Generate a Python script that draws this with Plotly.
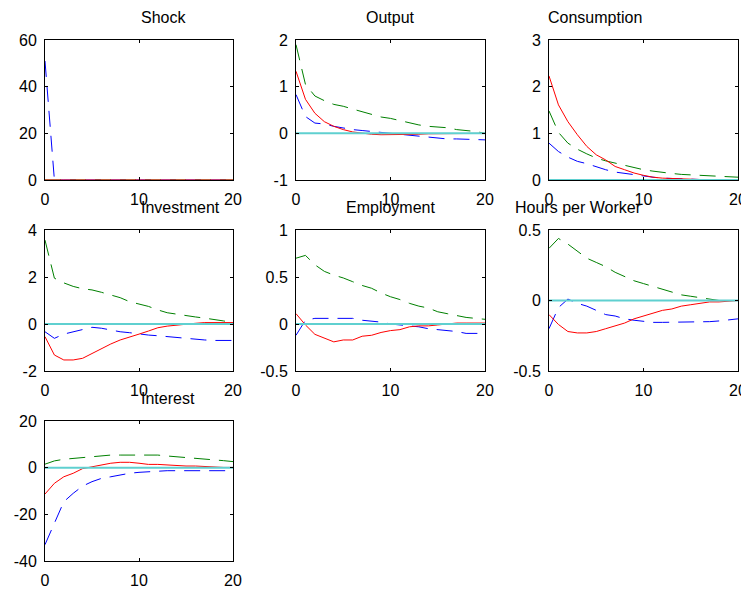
import plotly.graph_objects as go

t = list(range(21))

titles = ['Shock', 'Output', 'Consumption', 'Investment', 'Employment',
          'Hours per Worker', 'Interest']

# blue dashed, green dashed, red solid
shock_blue = [51] + [0] * 20
shock_green = [0] * 21
shock_red = [0] * 21

output_blue = [0.83, 0.36, 0.22, 0.2, 0.15, 0.11, 0.08, 0.06, 0.04, 0.02, 0.0,
               -0.02, -0.05, -0.07, -0.08, -0.1, -0.12, -0.12, -0.13, -0.13, -0.14]
output_green = [1.9, 1.05, 0.8, 0.7, 0.62, 0.58, 0.52, 0.46, 0.4, 0.35, 0.32,
                0.27, 0.22, 0.18, 0.15, 0.13, 0.12, 0.08, 0.06, 0.04, 0.0]
output_red = [1.33, 0.73, 0.43, 0.25, 0.15, 0.08, 0.03, 0.0, -0.02, -0.03, -0.03,
              -0.03, -0.03, -0.02, -0.01, -0.01, 0.0, 0.0, 0.0, 0.0, 0.0]

cons_blue = [0.79, 0.61, 0.49, 0.4, 0.35, 0.28, 0.22, 0.17, 0.14, 0.11, 0.08,
             0.06, 0.04, 0.03, 0.02, 0.01, 0.01, 0.01, 0.01, 0.01, 0.01]
cons_green = [1.48, 1.02, 0.79, 0.66, 0.56, 0.47, 0.41, 0.36, 0.31, 0.26, 0.22,
              0.19, 0.16, 0.14, 0.12, 0.11, 0.09, 0.09, 0.07, 0.06, 0.06]
cons_red = [2.23, 1.61, 1.25, 0.97, 0.72, 0.54, 0.43, 0.29, 0.22, 0.15, 0.1,
            0.06, 0.04, 0.03, 0.02, 0.01, 0.01, 0.01, 0.01, 0.01, 0.01]

inv_blue = [-0.33, -0.61, -0.43, -0.33, -0.23, -0.14, -0.18, -0.26, -0.33, -0.37, -0.43,
            -0.47, -0.5, -0.54, -0.58, -0.61, -0.65, -0.68, -0.7, -0.7, -0.7]
inv_green = [3.57, 1.95, 1.75, 1.6, 1.5, 1.45, 1.35, 1.25, 1.12, 0.95, 0.85,
             0.75, 0.6, 0.48, 0.42, 0.35, 0.3, 0.25, 0.2, 0.13, 0.06]
inv_red = [-0.54, -1.32, -1.53, -1.53, -1.46, -1.25, -1.04, -0.85, -0.68, -0.54, -0.43,
           -0.3, -0.16, -0.09, -0.04, 0.0, 0.03, 0.06, 0.06, 0.06, 0.06]

emp_blue = [-0.12, 0.04, 0.06, 0.06, 0.06, 0.06, 0.06, 0.04, 0.03, 0.02, 0.0,
            -0.01, -0.02, -0.03, -0.05, -0.06, -0.07, -0.08, -0.1, -0.1, -0.1]
emp_green = [0.7, 0.73, 0.63, 0.56, 0.52, 0.49, 0.45, 0.41, 0.38, 0.33, 0.29,
             0.26, 0.22, 0.19, 0.17, 0.13, 0.11, 0.09, 0.07, 0.06, 0.05]
emp_red = [0.11, -0.01, -0.11, -0.15, -0.19, -0.17, -0.17, -0.13, -0.12, -0.09, -0.07,
           -0.06, -0.03, -0.02, -0.02, -0.01, 0.0, 0.01, 0.01, 0.01, 0.01]

hrs_blue = [-0.2, -0.05, 0.01, -0.02, -0.04, -0.07, -0.1, -0.11, -0.13, -0.14, -0.15,
            -0.155, -0.155, -0.155, -0.155, -0.155, -0.155, -0.15, -0.145, -0.14, -0.13]
hrs_green = [0.37, 0.44, 0.4, 0.35, 0.3, 0.27, 0.24, 0.2, 0.17, 0.14, 0.12,
             0.1, 0.08, 0.06, 0.04, 0.03, 0.02, 0.01, 0.0, 0.0, 0.0]
hrs_red = [-0.1, -0.17, -0.22, -0.23, -0.23, -0.22, -0.2, -0.18, -0.16, -0.13, -0.11,
           -0.09, -0.07, -0.06, -0.04, -0.03, -0.02, -0.01, -0.01, -0.005, 0.0]

int_blue = [-33, -23.8, -14.6, -11, -7.9, -6, -4.6, -3.9, -3.1, -2.4, -2,
            -1.7, -1.3, -1.3, -1.3, -1.3, -1.3, -1.3, -1.3, -1.3, -1.3]
int_green = [1.5, 2.9, 3.6, 4, 4.3, 4.7, 5.1, 5.4, 5.4, 5.4, 5.4,
             5.4, 5.4, 5, 4.7, 4.4, 4, 3.6, 3.6, 3, 2.6]
int_red = [-11.3, -6.7, -3.9, -2.4, -0.4, 0.4, 1.1, 1.9, 2.3, 2.3, 1.9,
           1.4, 1.4, 1.1, 0.9, 0.7, 0.7, 0.4, 0.1, 0.1, 0.1]

blue = [shock_blue, output_blue, cons_blue, inv_blue, emp_blue, hrs_blue, int_blue]
green = [shock_green, output_green, cons_green, inv_green, emp_green, hrs_green, int_green]
red = [shock_red, output_red, cons_red, inv_red, emp_red, hrs_red, int_red]

y_ticks = [[0, 20, 40, 60], [-1, 0, 1, 2], [0, 1, 2, 3], [-2, 0, 2, 4],
           [-0.5, 0, 0.5, 1], [-0.5, 0, 0.5], [-40, -20, 0, 20]]
y_labels = [['0', '20', '40', '60'], ['-1', '0', '1', '2'], ['0', '1', '2', '3'],
            ['-2', '0', '2', '4'], ['-0.5', '0', '0.5', '1'], ['-0.5', '0', '0.5'],
            ['-40', '-20', '0', '20']]
x_ticks = [0, 10, 20]

# the page body adds an 8px margin, so the figure is drawn 8px smaller and
# every panel position is shifted by the same amount
OFF = 8
W, H = 749 - OFF, 590 - OFF
col_px = [(45, 233), (296, 485), (549, 738)]
row_px = [(40, 180), (230, 371), (421, 561)]

font = dict(family='Liberation Sans, Arial, sans-serif', size=16, color='black')
fig = go.Figure()

for i in range(7):
    r, c = divmod(i, 3)
    n = '' if i == 0 else str(i + 1)
    xa, ya = 'x' + n, 'y' + n
    for ys, col, dash in [(blue[i], 'blue', '16px,9px'), (green[i], 'green', '16px,9px'),
                          (red[i], 'red', 'solid')]:
        fig.add_trace(go.Scatter(x=t, y=ys, mode='lines', xaxis=xa, yaxis=ya,
                                 line=dict(color=col, width=1, dash=dash),
                                 showlegend=False))
    if i > 0:
        fig.add_trace(go.Scatter(x=t, y=[0] * 21, mode='lines', xaxis=xa, yaxis=ya,
                                 line=dict(color='rgb(95,208,208)', width=2),
                                 showlegend=False))
    x0, x1 = (p - OFF for p in col_px[c])
    y0, y1 = (p - OFF for p in row_px[r])
    common = dict(showline=True, linecolor='black', linewidth=1, mirror='allticks',
                  ticks='inside', ticklen=3, tickcolor='black', showgrid=False,
                  zeroline=False, tickfont=font, automargin=False)
    fig.layout['xaxis' + n] = dict(domain=[x0 / W, x1 / W], anchor=ya, range=[0, 20],
                                   tickvals=x_ticks, ticklabelstandoff=5, **common)
    yr = y_ticks[i]
    fig.layout['yaxis' + n] = dict(domain=[1 - y1 / H, 1 - y0 / H], anchor=xa,
                                   range=[yr[0], yr[-1]], tickvals=yr,
                                   ticktext=y_labels[i], ticklabelstandoff=4, **common)
    fig.add_annotation(text=titles[i], xref='paper', yref='paper',
                       x=(x0 + x1) / 2 / W, y=1 - y0 / H, yanchor='bottom',
                       yshift=12, showarrow=False,
                       font=dict(family=font['family'], size=16, color='black'))

fig.update_layout(width=W, height=H,
                  margin=dict(l=0, r=0, t=0, b=0, pad=0, autoexpand=False),
                  plot_bgcolor='white', paper_bgcolor='white')

fig.write_html("out.html")
